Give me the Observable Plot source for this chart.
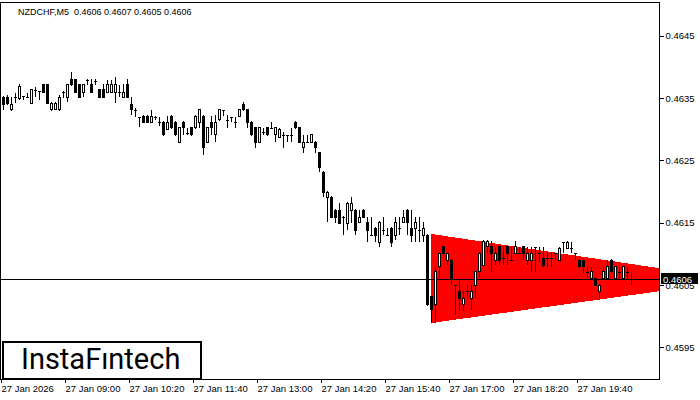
<!DOCTYPE html>
<html><head><meta charset="utf-8">
<script src="https://cdn.jsdelivr.net/npm/d3@7"></script>
<script src="https://cdn.jsdelivr.net/npm/@observablehq/plot@0.6"></script>
<style>
html,body{margin:0;padding:0;background:#fff;}
#wrap{position:relative;width:700px;height:400px;overflow:hidden;}
#logo{position:absolute;left:2px;top:341px;width:200px;height:39px;box-sizing:border-box;border:2px solid #000;background:#fff;
 font-family:Roboto,"Open Sans",sans-serif;font-size:29px;line-height:33px;padding-left:17px;color:#000;letter-spacing:0px;}
</style></head><body><div id="wrap"><div id="logo">InstaFıntech</div></div>
<script>
const symbolTitle = "NZDCHF,M5  0.4606 0.4607 0.4605 0.4606";
const open = [0.46351,0.46351,0.46331,0.46351,0.46350,0.46353,0.46351,0.46342,0.46363,0.46361,
0.46371,0.46371,0.46331,0.46331,0.46331,0.46359,0.46351,0.46380,0.46379,0.46371,
0.46359,0.46379,0.46371,0.46377,0.46363,0.46363,0.46359,0.46359,0.46359,0.46359,
0.46351,0.46371,0.46340,0.46331,0.46319,0.46321,0.46321,0.46311,0.46319,0.46311,
0.46311,0.46300,0.46321,0.46311,0.46279,0.46311,0.46294,0.46302,0.46302,0.46311,
0.46321,0.46279,0.46311,0.46291,0.46315,0.46331,0.46315,0.46319,0.46311,0.46321,
0.46340,0.46331,0.46311,0.46302,0.46279,0.46295,0.46302,0.46302,0.46291,0.46287,
0.46291,0.46291,0.46291,0.46311,0.46302,0.46270,0.46279,0.46279,0.46279,0.46262,
0.46231,0.46191,0.46191,0.46170,0.46170,0.46159,0.46149,0.46170,0.46170,0.46151,
0.46170,0.46151,0.46130,0.46141,0.46119,0.46138,0.46130,0.46141,0.46130,0.46141,
0.46151,0.46170,0.46141,0.46141,0.46138,0.46130,0.46130,0.46031,0.46018,0.46079,
0.46111,0.46090,0.46090,0.46050,0.46040,0.46019,0.46040,0.46029,0.46050,0.46071,
0.46082,0.46111,0.46111,0.46090,0.46111,0.46093,0.46111,0.46090,0.46101,0.46101,
0.46111,0.46090,0.46090,0.46111,0.46101,0.46093,0.46093,0.46093,0.46101,0.46090,
0.46119,0.46109,0.46109,0.46101,0.46090,0.46090,0.46071,0.46061,0.46060,0.46040,
0.46060,0.46060,0.46090,0.46060,0.46071,0.46060,0.46071,0.46060];
const high = [0.46353,0.46355,0.46351,0.46358,0.46372,0.46353,0.46358,0.46364,0.46367,0.46361,
0.46372,0.46372,0.46343,0.46343,0.46355,0.46361,0.46372,0.46391,0.46380,0.46372,
0.46372,0.46380,0.46380,0.46380,0.46364,0.46372,0.46379,0.46379,0.46383,0.46371,
0.46372,0.46380,0.46351,0.46334,0.46319,0.46323,0.46323,0.46331,0.46321,0.46319,
0.46313,0.46321,0.46323,0.46313,0.46303,0.46313,0.46302,0.46303,0.46323,0.46332,
0.46323,0.46303,0.46321,0.46323,0.46332,0.46331,0.46323,0.46319,0.46319,0.46332,
0.46343,0.46332,0.46313,0.46303,0.46303,0.46302,0.46303,0.46311,0.46303,0.46302,
0.46295,0.46291,0.46302,0.46313,0.46303,0.46291,0.46291,0.46292,0.46281,0.46263,
0.46233,0.46201,0.46193,0.46172,0.46181,0.46161,0.46183,0.46191,0.46172,0.46170,
0.46172,0.46159,0.46159,0.46143,0.46153,0.46159,0.46141,0.46143,0.46159,0.46159,
0.46170,0.46172,0.46170,0.46159,0.46159,0.46151,0.46132,0.46032,0.46079,0.46103,
0.46112,0.46103,0.46092,0.46050,0.46060,0.46040,0.46050,0.46050,0.46072,0.46103,
0.46122,0.46122,0.46120,0.46111,0.46112,0.46111,0.46112,0.46111,0.46120,0.46111,
0.46112,0.46111,0.46111,0.46111,0.46111,0.46111,0.46103,0.46103,0.46101,0.46111,
0.46119,0.46120,0.46119,0.46101,0.46092,0.46092,0.46079,0.46079,0.46061,0.46052,
0.46079,0.46090,0.46092,0.46080,0.46079,0.46080,0.46079,0.46070];
const low = [0.46331,0.46339,0.46329,0.46342,0.46347,0.46347,0.46350,0.46340,0.46351,0.46347,
0.46358,0.46340,0.46329,0.46331,0.46329,0.46350,0.46343,0.46369,0.46358,0.46350,
0.46351,0.46371,0.46358,0.46371,0.46350,0.46350,0.46358,0.46358,0.46342,0.46351,
0.46350,0.46350,0.46323,0.46319,0.46303,0.46310,0.46310,0.46310,0.46315,0.46305,
0.46289,0.46299,0.46300,0.46289,0.46278,0.46291,0.46291,0.46289,0.46300,0.46302,
0.46258,0.46278,0.46291,0.46279,0.46313,0.46321,0.46302,0.46311,0.46302,0.46319,
0.46329,0.46302,0.46289,0.46270,0.46278,0.46291,0.46289,0.46300,0.46279,0.46286,
0.46270,0.46279,0.46279,0.46300,0.46278,0.46262,0.46279,0.46278,0.46262,0.46231,
0.46191,0.46151,0.46157,0.46149,0.46148,0.46130,0.46138,0.46149,0.46130,0.46149,
0.46157,0.46119,0.46129,0.46119,0.46111,0.46130,0.46129,0.46111,0.46122,0.46130,
0.46149,0.46130,0.46119,0.46119,0.46119,0.46119,0.46016,0.45989,0.45989,0.46061,
0.46100,0.46082,0.46050,0.46002,0.46008,0.46008,0.46029,0.46010,0.46029,0.46063,
0.46080,0.46101,0.46071,0.46082,0.46082,0.46082,0.46082,0.46088,0.46100,0.46100,
0.46090,0.46082,0.46071,0.46071,0.46087,0.46079,0.46079,0.46079,0.46090,0.46088,
0.46101,0.46108,0.46101,0.46090,0.46077,0.46069,0.46061,0.46060,0.46048,0.46029,
0.46058,0.46058,0.46069,0.46058,0.46060,0.46058,0.46060,0.46050];
const close = [0.46340,0.46342,0.46340,0.46351,0.46369,0.46353,0.46351,0.46363,0.46363,0.46361,
0.46359,0.46342,0.46342,0.46342,0.46351,0.46359,0.46371,0.46371,0.46359,0.46351,
0.46371,0.46379,0.46359,0.46377,0.46351,0.46351,0.46371,0.46371,0.46371,0.46359,
0.46359,0.46351,0.46331,0.46331,0.46319,0.46311,0.46311,0.46321,0.46319,0.46311,
0.46291,0.46311,0.46302,0.46291,0.46302,0.46302,0.46294,0.46291,0.46321,0.46331,
0.46271,0.46302,0.46302,0.46311,0.46331,0.46331,0.46315,0.46319,0.46311,0.46331,
0.46331,0.46311,0.46291,0.46279,0.46302,0.46295,0.46291,0.46302,0.46302,0.46299,
0.46291,0.46291,0.46291,0.46302,0.46279,0.46279,0.46279,0.46291,0.46270,0.46239,
0.46199,0.46199,0.46159,0.46159,0.46149,0.46159,0.46181,0.46181,0.46138,0.46159,
0.46159,0.46138,0.46130,0.46130,0.46151,0.46138,0.46130,0.46119,0.46151,0.46141,
0.46159,0.46151,0.46130,0.46151,0.46138,0.46141,0.46018,0.46010,0.46071,0.46101,
0.46101,0.46101,0.46061,0.46050,0.46029,0.46029,0.46040,0.46040,0.46071,0.46101,
0.46120,0.46120,0.46101,0.46101,0.46090,0.46093,0.46101,0.46090,0.46111,0.46101,
0.46101,0.46101,0.46101,0.46111,0.46101,0.46082,0.46093,0.46093,0.46101,0.46109,
0.46119,0.46119,0.46109,0.46101,0.46079,0.46079,0.46071,0.46071,0.46050,0.46050,
0.46071,0.46079,0.46071,0.46079,0.46071,0.46079,0.46071,0.46060];
const timeLabels = ["27 Jan 2026","27 Jan 09:00","27 Jan 10:20","27 Jan 11:40","27 Jan 13:00",
"27 Jan 14:20","27 Jan 15:40","27 Jan 17:00","27 Jan 18:20","27 Jan 19:40"];
const timeLabelBars = [0,16,32,48,64,80,96,112,128,144];
const priceTicks = [0.4595,0.4605,0.4615,0.4625,0.4635,0.4645];
const lastPrice = 0.4606;
const triBars = [107,164];
const triUpper = [0.46132,0.46077];
const triLower = [0.45989,0.46040];

const bars = open.map((o,i)=>({i, open:o, high:high[i], low:low[i], close:close[i]}));
const bodies = bars.filter(d=>d.open!==d.close);
const dojis = bars.filter(d=>d.open===d.close);
const tri = triBars.map((b,k)=>({i:b, top:triUpper[k], bot:triLower[k]}));
const labelOf = new Map(timeLabelBars.map((b,k)=>[b,timeLabels[k]]));

const FONT = "'Liberation Sans', Arial, sans-serif";
const plot = Plot.plot({
  width:700, height:400,
  marginTop:2, marginBottom:21, marginLeft:0, marginRight:41,
  style:{fontFamily:FONT, fontSize:"9.5px", background:"#fff", color:"#000", overflow:"visible"},
  x:{type:"linear", domain:[-0.75,164], axis:null},
  y:{type:"linear", domain:[0.458992,0.465041], axis:null},
  marks:[
    Plot.areaY(tri, {x:"i", y1:"bot", y2:"top", fill:"#ff0000", clip:true}),
    Plot.ruleY([lastPrice], {stroke:"#000", strokeWidth:1}),
    Plot.ruleX(bars, {x:"i", y1:"low", y2:"high", stroke:"#000", strokeWidth:1}),
    Plot.rect(bodies, {x1:d=>d.i-0.25, x2:d=>d.i+0.25, y1:"open", y2:"close",
      fill:d=>d.close>d.open?"#fff":"#000", stroke:"#000", strokeWidth:1}),
    Plot.ruleY(dojis, {y:"open", x1:d=>d.i-0.375, x2:d=>d.i+0.375, stroke:"#000", strokeWidth:1}),
    Plot.frame({stroke:"#000", strokeWidth:1}),
    Plot.axisY(priceTicks, {anchor:"right", tickSize:4, tickPadding:2, tickFormat:d=>d.toFixed(4), label:null}),
    Plot.axisX(timeLabelBars, {anchor:"bottom", tickSize:4, tickPadding:2, tickFormat:d=>labelOf.get(d), textAnchor:"start", dx:-2, label:null})
  ]
});
plot.setAttribute("shape-rendering","crispEdges");
document.getElementById("wrap").prepend(plot);

const svg = d3.select(plot);
// title
svg.append("text").attr("x",18).attr("y",15).attr("font-size","9px").attr("font-family",FONT)
  .attr("text-anchor","start").attr("xml:space","preserve").style("white-space","pre")
  .attr("fill","#000").text(symbolTitle);
// current price label
const yp = plot.scale("y").apply(lastPrice);
svg.append("rect").attr("x",661).attr("y",Math.round(yp)-6).attr("width",37).attr("height",11).attr("fill","#000");
svg.append("text").attr("x",663).attr("y",Math.round(yp)+0.5).attr("dy","0.35em").attr("fill","#fff")
  .attr("text-anchor","start").attr("font-size","9.5px").attr("font-family",FONT).text(lastPrice.toFixed(4));
</script></body></html>
